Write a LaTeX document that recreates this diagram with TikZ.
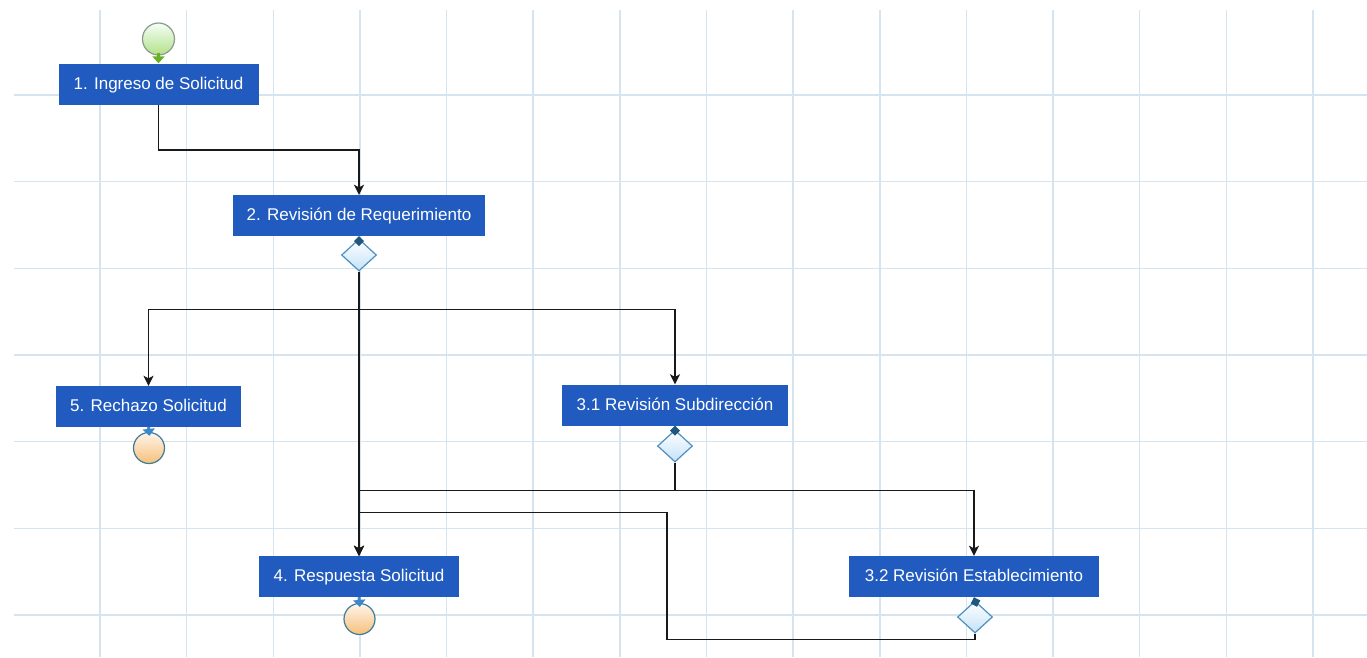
\documentclass[tikz,border=0pt]{standalone}
\usepackage{fontspec}
\setmainfont{Liberation Sans}
\usetikzlibrary{arrows.meta,shapes.geometric}

\definecolor{taskblue}{RGB}{33,91,192}
\definecolor{gridblue}{RGB}{214,228,239}
\definecolor{gateedge}{RGB}{77,144,192}
\definecolor{gatefill}{RGB}{196,226,248}
\definecolor{gatemark}{RGB}{30,88,126}
\definecolor{startedge}{RGB}{140,154,140}
\definecolor{startfill}{RGB}{178,224,138}
\definecolor{startarrow}{RGB}{106,176,35}
\definecolor{endedge}{RGB}{61,125,153}
\definecolor{endfill}{RGB}{246,192,122}
\definecolor{endarrow}{RGB}{59,135,200}

\begin{document}
\begin{tikzpicture}[x=1pt,y=-1pt,
    gridline/.style={draw=gridblue, line width=1.5pt},
    task/.style={fill=taskblue, text=white, minimum height=41pt, inner sep=0pt,
        font=\fontsize{17}{20}\selectfont, text height=12pt, text depth=2pt},
    gate/.style={diamond, draw=gateedge, line width=1.2pt, top color=white,
        bottom color=gatefill, minimum width=35pt, minimum height=32pt, inner sep=0pt},
    startev/.style={circle, draw=startedge, line width=1.2pt, top color=green!4,
        bottom color=startfill, minimum size=32pt, inner sep=0pt},
    endev/.style={circle, draw=endedge, line width=1.2pt, top color=orange!8,
        bottom color=endfill, minimum size=31pt, inner sep=0pt},
    flow/.style={draw=black!90, line width=1.7pt, -{Stealth[length=10pt,width=10pt,inset=2.5pt]}},
    startlink/.style={draw=startarrow, line width=3pt, shorten <=-3pt, -{Triangle[length=7pt,width=12pt]}},
    endlink/.style={draw=endarrow, line width=3pt, shorten >=-4pt, -{Triangle[length=7pt,width=12pt]}},
    gatelink/.style={draw=gatemark, line width=2.5pt, shorten >=-2pt, {Diamond[length=10pt,width=10pt]}-}]

\fill[white] (0,0) rectangle (1367,657);
\useasboundingbox (0,0) rectangle (1367,657);

% grid
\foreach \k in {0,...,14} {
    \draw[gridline] ({100+86.64*\k},10) -- ({100+86.64*\k},657);
}
\foreach \k in {0,...,6} {
    \draw[gridline] (14,{95+86.67*\k}) -- (1367,{95+86.67*\k});
}

% tasks
\node[task, minimum width=200pt] (ingreso) at (158.5,84) {1. Ingreso de Solicitud};
\node[task, minimum width=252pt] (revision) at (359,215.5) {2. Revisión de Requerimiento};
\node[task, minimum width=185pt] (rechazo) at (148.5,406.5) {5. Rechazo Solicitud};
\node[task, minimum width=226pt] (subdir) at (675,405) {3.1 Revisión Subdirección};
\node[task, minimum width=200pt] (respuesta) at (359,576.5) {4. Respuesta Solicitud};
\node[task, minimum width=250pt] (establ) at (974,576.5) {3.2 Revisión Establecimiento};

% events and gateways
\node[startev] (inicio) at (158.5,39) {};
\node[endev] (finrech) at (149,448) {};
\node[endev] (finresp) at (359.5,619) {};
\node[gate] (gaterev) at (359,255) {};
\node[gate] (gatesub) at (675,446) {};
\node[gate] (gateest) at (975,617) {};

\draw[startlink] (inicio.south) -- (ingreso.north);
\draw[endlink] (rechazo.south) -- (finrech.north);
\draw[endlink] (respuesta.south) -- (finresp.north);
\draw[gatelink] (revision.south) -- (gaterev.north);
\draw[gatelink] (subdir.south) -- (gatesub.north);
\draw[gatelink] (establ.south) -- (gateest.north);

% sequence flows
\draw[flow] (ingreso.south) -- ++(0,45) -| (revision.north);
\draw[flow] (gaterev.south) -- ++(0,38) -| (rechazo.north);
\draw[flow] (gaterev.south) -- ++(0,38) -| (subdir.north);
\draw[flow] (gaterev.south) -- (respuesta.north);
\draw[flow] (gatesub.south) -- ++(0,28) -| (establ.north);
\draw[flow] (gatesub.south) -- ++(0,28) -| (respuesta.north);
\draw[flow] (gateest.south) -- ++(0,6) -- ++(-308,0) -- ++(0,-127) -| (respuesta.north);
\end{tikzpicture}
\end{document}
